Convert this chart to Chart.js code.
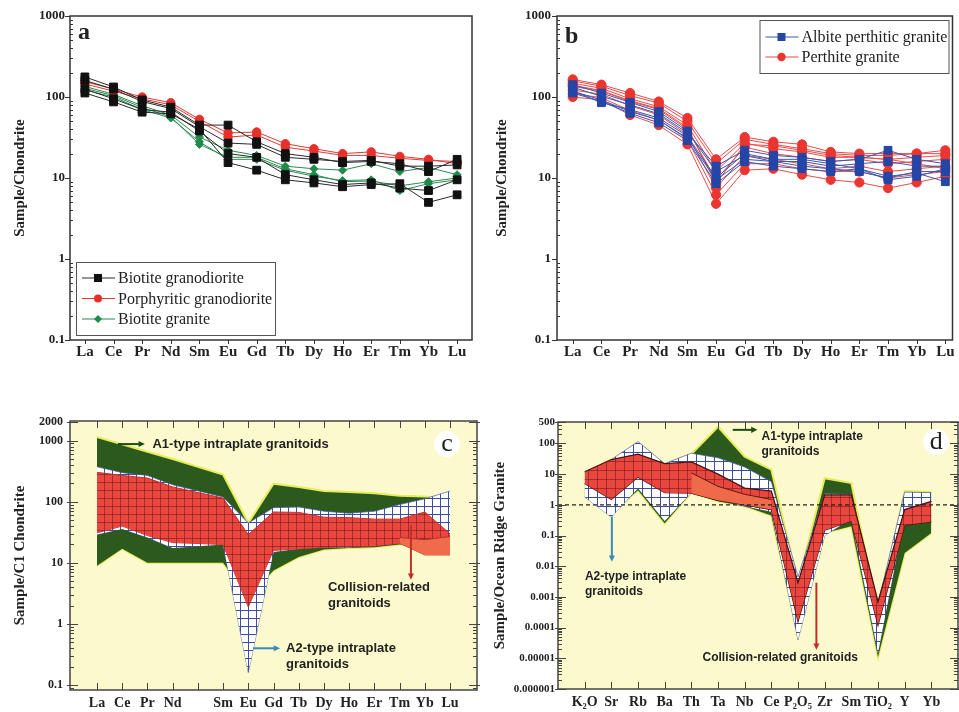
<!DOCTYPE html>
<html>
<head>
<meta charset="utf-8">
<title>REE and ORG-normalised patterns</title>
<script src="https://cdn.jsdelivr.net/npm/chart.js@4.4.1/dist/chart.umd.min.js"></script>
<style>
  html, body { margin: 0; padding: 0; background: #fff; }
  body { position: relative; width: 959px; height: 712px; overflow: hidden; }
  .panel { position: absolute; }
</style>
</head>
<body>
<div class="panel" style="left:0;top:0;width:480px;height:362px"><canvas id="chart-a"></canvas></div>
<div class="panel" style="left:480px;top:0;width:479px;height:362px"><canvas id="chart-b"></canvas></div>
<div class="panel" style="left:0;top:362px;width:480px;height:350px"><canvas id="chart-c"></canvas></div>
<div class="panel" style="left:480px;top:362px;width:479px;height:350px"><canvas id="chart-d"></canvas></div>
<script>
const SERIF = '"Liberation Serif", "DejaVu Serif", serif';
const SANS = '"Liberation Sans", Arial, sans-serif';

// ---- a / b : chondrite-normalised REE patterns ----
const reeElements = ["La", "Ce", "Pr", "Nd", "Sm", "Eu", "Gd", "Tb", "Dy", "Ho", "Er", "Tm", "Yb", "Lu"];
const chondriteTicks = [0.1, 1, 10, 100, 1000];

const biotiteGranodiorite = [
  [177, 133, 92, 75, 45, 45, 28, 20, 18, 15.5, 16, 15, 12, 17],
  [160, 125, 88, 72, 43, 27, 26, 18, 17, 16, 16.5, 14, 14, 14.5],
  [112, 87, 65, 62, 40, 15.5, 12.5, 9.5, 8.7, 7.8, 8.3, 8.5, 5, 6.2],
  [125, 95, 70, 65, 38, 20, 18, 11, 9.5, 8.3, 8.7, 7.5, 7, 9.5]
];
const porphyriticGranodiorite = [
  [155, 125, 100, 85, 53, 36, 37, 26.5, 23, 20, 21, 18.5, 17, 15],
  [145, 118, 95, 80, 50, 32, 34, 24, 21.5, 19, 19, 17.5, 16.5, 16]
];
const biotiteGranite = [
  [135, 108, 78, 60, 32, 22, 19, 14, 13, 12.5, 15, 12, 13.5, 11],
  [122, 100, 70, 55, 28, 17, 17, 12.5, 10.5, 9.3, 9.5, 7, 8.5, 9.5],
  [128, 104, 74, 57, 26, 18, 18, 13, 11, 9, 9.2, 8, 9, 10]
];

const albitePerthiticGranite = [
  [120, 85, 70, 55, 33, 10, 20, 17, 17, 15, 13, 10.5, 11.5, 9],
  [132, 102, 80, 62, 36, 14, 22, 19, 18, 16, 17, 22, 17, 15],
  [118, 92, 66, 52, 31, 9.5, 17, 16, 14, 13, 12, 10, 12, 12],
  [142, 112, 86, 66, 38, 12, 19, 16, 16, 14, 15, 16, 14, 14],
  [112, 88, 63, 48, 29, 8.5, 16, 14, 13, 12, 13, 9.5, 10.5, 13]
];
const perthiteGranite = [
  [165, 142, 112, 88, 55, 17, 32, 28, 26, 21, 20, 20, 20, 22],
  [158, 136, 104, 84, 50, 15, 30, 26, 23, 20, 19, 19, 20, 20],
  [148, 128, 95, 76, 45, 12, 27, 23, 21, 18, 18, 17, 18, 19],
  [135, 118, 88, 70, 40, 9.5, 24, 20, 18, 16, 17, 15, 16, 17],
  [122, 108, 78, 60, 34, 7.5, 19, 17, 15, 13, 14, 12, 13, 14],
  [110, 98, 68, 52, 30, 6.2, 15, 15, 13, 12, 12, 10, 11, 12],
  [100, 92, 60, 45, 26, 4.8, 12.5, 13, 11, 9.5, 8.8, 7.5, 8.8, 10.5],
  [140, 120, 90, 72, 42, 8.5, 26, 25, 22, 19, 18, 17, 15, 13]
];

// ---- c : C1 chondrite-normalised discrimination fields ----
const cCategories = ["La", "Ce", "Pr", "Nd", "Pm", "Sm", "Eu", "Gd", "Tb", "Dy", "Ho", "Er", "Tm", "Yb", "Lu"];
const cElements = ["La", "Ce", "Pr", "Nd", "Sm", "Eu", "Gd", "Tb", "Dy", "Ho", "Er", "Tm", "Yb", "Lu"];
const cTicks = [0.1, 1, 10, 100, 1000, 2000];
const cA1Upper = [1150, 870, 660, 500, 280, 45, 197, 175, 150, 145, 138, 126, 122, 110];
const cA1Lower = [9, 17, 10, 10, 10, 2.8, 7.5, 12.5, 16.5, 17.5, 18, 20, 20, 20];
const cA2Upper = [375, 300, 270, 190, 120, 45, 80, 82, 70, 65, 70, 90, 112, 150];
const cA2Lower = [29, 36, 26, 17.5, 20, 0.16, 15, 17, 18, 18, 19, 21, 25, 28];
const cCollisionUpper = [303, 270, 245, 175, 115, 29, 68, 67, 56, 55, 52, 52, 68, 30];
const cCollisionLower = [31, 40, 28, 21.5, 20, 1.9, 16, 17, 18, 18.5, 19, 21, 14, 14];
const cTailElements = ["Tm", "Yb", "Lu"];
const cTailUpper = [26, 24, 27];
const cTailLower = [21, 13.5, 13.5];

// ---- d : ocean-ridge-granite-normalised discrimination fields ----
const dElements = ["K\u2082O", "Sr", "Rb", "Ba", "Th", "Ta", "Nb", "Ce", "P\u2082O\u2085", "Zr", "Sm", "TiO\u2082", "Y", "Yb"];
const dTicks = [0.000001, 0.00001, 0.0001, 0.001, 0.01, 0.1, 1, 10, 100, 500];
const dA1Upper = [10, 25, 100, 20, 45, 350, 37, 14, 0.003, 7.4, 5.1, 0.0003, 2.8, 2.6];
const dA1Lower = [2, 0.5, 3, 0.25, 2.5, 1.3, 0.9, 0.45, 0.00005, 0.12, 0.2, 0.000011, 0.027, 0.12];
const dA2Upper = [11, 30, 115, 22, 48, 34, 17, 5.7, 0.0045, 2.3, 2.2, 0.0006, 2.6, 2.5];
const dA2Lower = [1.8, 0.4, 3.5, 0.3, 2.5, 1.4, 0.9, 0.6, 0.00004, 0.1, 0.35, 0.000015, 0.45, 0.4];
const dCollisionUpper = [12, 30, 45, 22, 25, 10, 3.5, 2.8, 0.0029, 2.1, 2.1, 0.0007, 0.7, 1.3];
const dCollisionLower = [5, 1.5, 8, 2.5, 2.4, 1.4, 1.0, 0.7, 0.00016, 0.15, 0.3, 0.00012, 0.22, 0.28];
const dInnerElements = [4, 5, 6, 7];
const dInnerUpper = [11, 4, 2.2, 1.5];
const dInnerLower = [2.4, 1.4, 1.0, 0.7];
const dOrgLevel = 1;

// ---------- helpers ----------
function logTicks(min, max) {
  const out = [];
  for (let e = Math.floor(Math.log10(min)); e <= Math.ceil(Math.log10(max)); e++) {
    for (let m = 1; m <= 9; m++) {
      const v = Number((m * Math.pow(10, e)).toPrecision(6));
      if (v >= min * 0.999 && v <= max * 1.001) out.push(v);
    }
  }
  return out;
}

function gridPattern(fill, line, step) {
  const c = document.createElement("canvas");
  c.width = step;
  c.height = step;
  const g = c.getContext("2d");
  g.fillStyle = fill;
  g.fillRect(0, 0, step, step);
  g.strokeStyle = line;
  g.lineWidth = 1;
  g.beginPath();
  g.moveTo(0.5, 0); g.lineTo(0.5, step);
  g.moveTo(0, 0.5); g.lineTo(step, 0.5);
  g.stroke();
  return g.createPattern(c, "repeat");
}

const toPoints = (values) => values.map((v, i) => ({ x: i, y: v }));
const toCPoints = (elements, values) =>
  values.map((v, i) => ({ x: cCategories.indexOf(elements[i]), y: v }));
const toIndexedPoints = (indices, values) => values.map((v, i) => ({ x: indices[i], y: v }));

function yAxis({ min, max, labels, title, titlePad, width, size, pad }) {
  return {
    type: "logarithmic",
    min, max,
    afterBuildTicks: (scale) => { scale.ticks = logTicks(min, max).map((v) => ({ value: v })); },
    afterFit: (scale) => { scale.width = width; },
    grid: { display: false, drawTicks: false },
    border: { display: false },
    ticks: {
      autoSkip: false,
      padding: pad,
      color: "#222",
      font: { family: SERIF, size, weight: "bold" },
      callback: (v) => {
        const hit = labels.find((l) => Math.abs(l - v) / l < 1e-6);
        return hit === undefined ? "" : String(hit);
      }
    },
    title: {
      display: true, text: title, color: "#222",
      font: { family: SERIF, size: 15, weight: "bold" },
      padding: { top: titlePad, bottom: 0 }
    }
  };
}

function xAxis({ min, max, names, height, size, pad }) {
  return {
    type: "linear",
    min, max,
    afterBuildTicks: (scale) => { scale.ticks = names.map((_, i) => ({ value: i })); },
    afterFit: (scale) => { scale.height = height; },
    grid: { display: false, drawTicks: false },
    border: { display: false },
    ticks: {
      autoSkip: false, maxRotation: 0, padding: pad, color: "#222",
      font: { family: SERIF, size, weight: "bold" },
      callback: (v) => {
        const name = names[Math.round(v)];
        return !name || name === "Pm" ? "" : name;
      }
    }
  };
}

// box, background and tick marks of each panel
const framePlugin = {
  id: "frame",
  beforeDatasetsDraw(chart, args, opts) {
    if (!opts.background) return;
    const { ctx, chartArea: a } = chart;
    ctx.save();
    ctx.fillStyle = opts.background;
    ctx.fillRect(a.left, a.top, a.right - a.left, a.bottom - a.top);
    ctx.restore();
  },
  afterDatasetsDraw(chart, args, opts) {
    const { ctx, chartArea: a } = chart;
    const xs = chart.scales.x;
    const ys = chart.scales.y;
    ctx.save();
    ctx.strokeStyle = opts.color;
    ctx.lineWidth = 1;
    ctx.beginPath();
    ys.ticks.forEach((t) => {
      if (t.value < ys.min * 0.999 || t.value > ys.max * 1.001) return;
      const py = Math.round(ys.getPixelForValue(t.value)) + 0.5;
      const major = t.label !== "";
      const out = major ? opts.majorOut : 0;
      const inn = major ? opts.majorIn : opts.minorIn;
      ctx.moveTo(a.left - out, py); ctx.lineTo(a.left + inn, py);
      if (opts.mirror) { ctx.moveTo(a.right + out, py); ctx.lineTo(a.right - inn, py); }
    });
    xs.ticks.forEach((t) => {
      const px = Math.round(xs.getPixelForValue(t.value)) + 0.5;
      ctx.moveTo(px, a.bottom + opts.xOut); ctx.lineTo(px, a.bottom - opts.xIn);
      if (opts.mirror) { ctx.moveTo(px, a.top - opts.xOut); ctx.lineTo(px, a.top + opts.xIn); }
    });
    ctx.stroke();
    ctx.lineWidth = opts.width;
    ctx.strokeRect(a.left, a.top, a.right - a.left, a.bottom - a.top);
    ctx.restore();
  }
};

// labels, arrows and panel letters placed in data coordinates
const notesPlugin = {
  id: "notes",
  afterDatasetsDraw(chart, args, opts) {
    const { ctx } = chart;
    const xs = chart.scales.x;
    const ys = chart.scales.y;
    const px = (v) => xs.getPixelForValue(v);
    const py = (v) => ys.getPixelForValue(v);
    ctx.save();
    (opts.items || []).forEach((it) => {
      if (it.kind === "arrow") {
        const x1 = px(it.from[0]), y1 = py(it.from[1]);
        const x2 = px(it.to[0]), y2 = py(it.to[1]);
        const ang = Math.atan2(y2 - y1, x2 - x1);
        const head = 7;
        ctx.strokeStyle = it.color;
        ctx.fillStyle = it.color;
        ctx.lineWidth = 2;
        ctx.beginPath();
        ctx.moveTo(x1, y1);
        ctx.lineTo(x2 - Math.cos(ang) * head * 0.8, y2 - Math.sin(ang) * head * 0.8);
        ctx.stroke();
        ctx.beginPath();
        ctx.moveTo(x2, y2);
        ctx.lineTo(x2 - head * Math.cos(ang - 0.45), y2 - head * Math.sin(ang - 0.45));
        ctx.lineTo(x2 - head * Math.cos(ang + 0.45), y2 - head * Math.sin(ang + 0.45));
        ctx.closePath();
        ctx.fill();
      } else if (it.kind === "text") {
        ctx.font = it.font;
        ctx.fillStyle = it.color || "#222";
        ctx.textAlign = "left";
        ctx.textBaseline = "middle";
        it.lines.forEach((line, i) => ctx.fillText(line, px(it.x), py(it.y) + i * it.lineHeight));
      } else if (it.kind === "letter") {
        const x = px(it.x), y = py(it.y);
        if (it.halo) {
          ctx.fillStyle = "#ffffff";
          ctx.beginPath();
          ctx.arc(x, y, it.halo, 0, Math.PI * 2);
          ctx.fill();
        }
        ctx.font = it.font;
        ctx.fillStyle = it.color || "#222";
        ctx.textAlign = it.halo ? "center" : "left";
        ctx.textBaseline = "middle";
        ctx.fillText(it.text, x, y);
      }
    });
    ctx.restore();
  }
};

function drawMarker(ctx, kind, x, y, r, color) {
  ctx.fillStyle = color;
  ctx.beginPath();
  if (kind === "rect") {
    ctx.rect(x - r, y - r, 2 * r, 2 * r);
  } else if (kind === "rectRot") {
    ctx.moveTo(x, y - r); ctx.lineTo(x + r, y); ctx.lineTo(x, y + r); ctx.lineTo(x - r, y); ctx.closePath();
  } else {
    ctx.arc(x, y, r, 0, Math.PI * 2);
  }
  ctx.fill();
}

// framed legend sitting inside the plot area
const boxLegendPlugin = {
  id: "boxLegend",
  afterDatasetsDraw(chart, args, opts) {
    if (!opts.entries) return;
    const { ctx, chartArea: a } = chart;
    const x0 = opts.corner === "top-right" ? a.right - opts.dx - opts.width : a.left + opts.dx;
    const y0 = opts.corner === "top-right" ? a.top + opts.dy : a.bottom - opts.dy - opts.height;
    ctx.save();
    ctx.fillStyle = "#fff";
    ctx.fillRect(x0, y0, opts.width, opts.height);
    ctx.strokeStyle = "#555";
    ctx.lineWidth = 1;
    ctx.strokeRect(x0 + 0.5, y0 + 0.5, opts.width, opts.height);
    ctx.font = opts.font;
    ctx.textBaseline = "middle";
    opts.entries.forEach((e, i) => {
      const y = y0 + opts.firstRow + i * opts.rowHeight;
      ctx.strokeStyle = e.line;
      ctx.lineWidth = 1.2;
      ctx.beginPath();
      ctx.moveTo(x0 + 6, y); ctx.lineTo(x0 + 39, y);
      ctx.stroke();
      drawMarker(ctx, e.point, x0 + 22, y, e.size, e.color);
      ctx.fillStyle = "#222";
      ctx.fillText(e.label, x0 + 42, y + 1);
    });
    ctx.restore();
  }
};

const basePlugins = { legend: { display: false }, tooltip: { enabled: false } };

function sampleSets(samples, style) {
  return samples.map((s) => Object.assign({
    data: toPoints(s),
    borderWidth: 1,
    tension: 0,
    fill: false
  }, style));
}

// ---------- a ----------
const blackStyle = { borderColor: "#2a2a2a", pointBackgroundColor: "#111", pointBorderColor: "#111", pointStyle: "rect", pointRadius: 5.5 };
const redStyle = { borderColor: "#e03a34", pointBackgroundColor: "#e8302b", pointBorderColor: "#e8302b", pointStyle: "circle", pointRadius: 4.2 };
const greenStyle = { borderColor: "#2b8a52", pointBackgroundColor: "#1f8a4a", pointBorderColor: "#1f8a4a", pointStyle: "rectRot", pointRadius: 4 };

new Chart(document.getElementById("chart-a"), {
  type: "line",
  data: {
    datasets: [
      ...sampleSets(biotiteGranodiorite, blackStyle),
      ...sampleSets(porphyriticGranodiorite, redStyle),
      ...sampleSets(biotiteGranite, greenStyle)
    ]
  },
  options: {
    responsive: true, maintainAspectRatio: false, animation: false, events: [],
    layout: { padding: { top: 16, right: 8, left: 0, bottom: 0 } },
    scales: {
      x: xAxis({ min: -0.52, max: 13.52, names: reeElements, height: 22, size: 15, pad: 3 }),
      y: yAxis({ min: 0.1, max: 1000, labels: chondriteTicks, title: "Sample/Chondrite", titlePad: 11, width: 70, size: 13, pad: 5 })
    },
    plugins: {
      ...basePlugins,
      frame: { color: "#333", width: 1.5, majorOut: 5, majorIn: 0, minorIn: 3, xOut: 4, xIn: 0, mirror: false },
      notes: { items: [{ kind: "letter", x: -0.24, y: 620, text: "a", font: "bold 24px " + SERIF }] },
      boxLegend: {
        corner: "bottom-left", dx: 6, dy: 5, width: 199, height: 73, firstRow: 16, rowHeight: 20.5,
        font: "16px " + SERIF,
        entries: [
          { label: "Biotite granodiorite", line: "#2a2a2a", color: "#111", point: "rect", size: 4 },
          { label: "Porphyritic granodiorite", line: "#e03a34", color: "#e8302b", point: "circle", size: 4 },
          { label: "Biotite granite", line: "#2b8a52", color: "#1f8a4a", point: "rectRot", size: 4 }
        ]
      }
    }
  },
  plugins: [framePlugin, notesPlugin, boxLegendPlugin]
});

// ---------- b ----------
const blueStyle = { borderColor: "#3656b4", pointBackgroundColor: "#2446a6", pointBorderColor: "#2446a6", pointStyle: "rect", pointRadius: 5.5 };
const pinkStyle = { borderColor: "#e84b4b", pointBackgroundColor: "#ea3530", pointBorderColor: "#ea3530", pointStyle: "circle", pointRadius: 4.6 };

new Chart(document.getElementById("chart-b"), {
  type: "line",
  data: {
    datasets: [
      ...sampleSets(albitePerthiticGranite, blueStyle),
      ...sampleSets(perthiteGranite, pinkStyle)
    ]
  },
  options: {
    responsive: true, maintainAspectRatio: false, animation: false, events: [],
    layout: { padding: { top: 16, right: 2, left: 0, bottom: 0 } },
    scales: {
      x: xAxis({ min: -0.55, max: 13.25, names: reeElements, height: 22, size: 15, pad: 3 }),
      y: yAxis({ min: 0.1, max: 1000, labels: chondriteTicks, title: "Sample/Chondrite", titlePad: 13, width: 77, size: 13, pad: 6 })
    },
    plugins: {
      ...basePlugins,
      frame: { color: "#333", width: 1.5, majorOut: 5, majorIn: 0, minorIn: 3, xOut: 4, xIn: 0, mirror: false },
      notes: { items: [{ kind: "letter", x: -0.27, y: 550, text: "b", font: "bold 24px " + SERIF }] },
      boxLegend: {
        corner: "top-right", dx: 4, dy: 4, width: 189, height: 53, firstRow: 17, rowHeight: 20,
        font: "16px " + SERIF,
        entries: [
          { label: "Albite perthitic granite", line: "#3656b4", color: "#2446a6", point: "rect", size: 4 },
          { label: "Perthite granite", line: "#e84b4b", color: "#ea3530", point: "circle", size: 4.2 }
        ]
      }
    }
  },
  plugins: [framePlugin, notesPlugin, boxLegendPlugin]
});

// ---------- c / d fields ----------
const redHatch = gridPattern("#e9473e", "rgba(110, 20, 30, 0.55)", 8);
const blueHatch = gridPattern("#ffffff", "#3d4d9e", 8);
const redHatchD = gridPattern("#e9473e", "rgba(110, 20, 30, 0.55)", 9);
const blueHatchD = gridPattern("#ffffff", "#3d4d9e", 9);

function field(upperPts, lowerPts, fillStyle, edge, edgeWidth) {
  const common = { borderColor: edge, borderWidth: edgeWidth, pointRadius: 0, tension: 0 };
  return [
    Object.assign({ data: upperPts, fill: "+1", backgroundColor: fillStyle }, common),
    Object.assign({ data: lowerPts, fill: false }, common)
  ];
}

new Chart(document.getElementById("chart-c"), {
  type: "line",
  data: {
    datasets: [
      ...field(toCPoints(cTailElements, cTailUpper), toCPoints(cTailElements, cTailLower), "#f06a4c", "#b8302a", 1),
      ...field(toCPoints(cElements, cCollisionUpper), toCPoints(cElements, cCollisionLower), redHatch, "#c4302a", 1),
      ...field(toCPoints(cElements, cA2Upper), toCPoints(cElements, cA2Lower), blueHatch, "rgba(70, 90, 170, 0.7)", 1),
      ...field(toCPoints(cElements, cA1Upper), toCPoints(cElements, cA1Lower), "#2c5a1c", "#e6ec5a", 2)
    ]
  },
  options: {
    responsive: true, maintainAspectRatio: false, animation: false, events: [],
    layout: { padding: { top: 59, right: 3, left: 0, bottom: 0 } },
    scales: {
      x: xAxis({ min: -1.07, max: 15.07, names: cCategories, height: 22, size: 14, pad: 5 }),
      y: yAxis({ min: 0.083, max: 2100, labels: cTicks, title: "Sample/C1 Chondrite", titlePad: 11, width: 70, size: 12, pad: 7 })
    },
    plugins: {
      ...basePlugins,
      frame: { background: "#fcf9cd", color: "#444", width: 1.5, majorOut: 3, majorIn: 8, minorIn: 4, xOut: 0, xIn: 7, mirror: true },
      notes: {
        items: [
          { kind: "arrow", from: [0.83, 880], to: [1.9, 880], color: "#1d4d12" },
          { kind: "text", x: 2.2, y: 880, lines: ["A1-type intraplate granitoids"], font: "bold 13px " + SANS, lineHeight: 16 },
          { kind: "letter", x: 13.88, y: 880, text: "c", font: "26px " + SERIF, halo: 13 },
          { kind: "arrow", from: [12.45, 41], to: [12.45, 5.3], color: "#c0302a" },
          { kind: "text", x: 9.16, y: 3.97, lines: ["Collision-related", "granitoids"], font: "bold 13px " + SANS, lineHeight: 16 },
          { kind: "arrow", from: [6.19, 0.40], to: [7.26, 0.40], color: "#3a8ac0" },
          { kind: "text", x: 7.5, y: 0.40, lines: ["A2-type intraplate", "granitoids"], font: "bold 13px " + SANS, lineHeight: 16 }
        ]
      }
    }
  },
  plugins: [framePlugin, notesPlugin]
});

new Chart(document.getElementById("chart-d"), {
  type: "line",
  data: {
    datasets: [
      {
        data: [{ x: -1, y: dOrgLevel }, { x: dElements.length, y: dOrgLevel }],
        borderColor: "#222", borderWidth: 1.2, borderDash: [4, 3], pointRadius: 0, fill: false
      },
      ...field(toIndexedPoints(dInnerElements, dInnerUpper), toIndexedPoints(dInnerElements, dInnerLower), "#ee6a48", "#5a1a14", 1),
      ...field(toPoints(dCollisionUpper), toPoints(dCollisionLower), redHatchD, "#4a1410", 1.3),
      ...field(toPoints(dA2Upper), toPoints(dA2Lower), blueHatchD, "rgba(70, 90, 170, 0.7)", 1),
      ...field(toPoints(dA1Upper), toPoints(dA1Lower), "#2c5a1c", "#e6ec5a", 2)
    ]
  },
  options: {
    responsive: true, maintainAspectRatio: false, animation: false, events: [],
    layout: { padding: { top: 60, right: 1, left: 0, bottom: 0 } },
    scales: {
      x: xAxis({ min: -1, max: 14, names: dElements, height: 23, size: 14, pad: 5 }),
      y: yAxis({ min: 0.000001, max: 500, labels: dTicks, title: "Sample/Ocean Ridge Granite", titlePad: 11, width: 78, size: 11, pad: 3 })
    },
    plugins: {
      ...basePlugins,
      frame: { background: "#fcf9cd", color: "#444", width: 1.5, majorOut: 3, majorIn: 8, minorIn: 4, xOut: 0, xIn: 7, mirror: true },
      notes: {
        items: [
          { kind: "arrow", from: [5.55, 277], to: [6.48, 277], color: "#1d4d12" },
          { kind: "text", x: 6.63, y: 164, lines: ["A1-type intraplate", "granitoids"], font: "bold 12px " + SANS, lineHeight: 15 },
          { kind: "letter", x: 13.18, y: 112, text: "d", font: "26px " + SERIF, halo: 13 },
          { kind: "arrow", from: [1.02, 0.41], to: [1.02, 0.014], color: "#3a8ac0" },
          { kind: "text", x: 0.01, y: 0.0045, lines: ["A2-type intraplate", "granitoids"], font: "bold 12px " + SANS, lineHeight: 15 },
          { kind: "arrow", from: [8.69, 0.0029], to: [8.69, 0.000019], color: "#c0302a" },
          { kind: "text", x: 4.42, y: 0.0000103, lines: ["Collision-related granitoids"], font: "bold 12px " + SANS, lineHeight: 15 }
        ]
      }
    }
  },
  plugins: [framePlugin, notesPlugin]
});
</script>
</body>
</html>
